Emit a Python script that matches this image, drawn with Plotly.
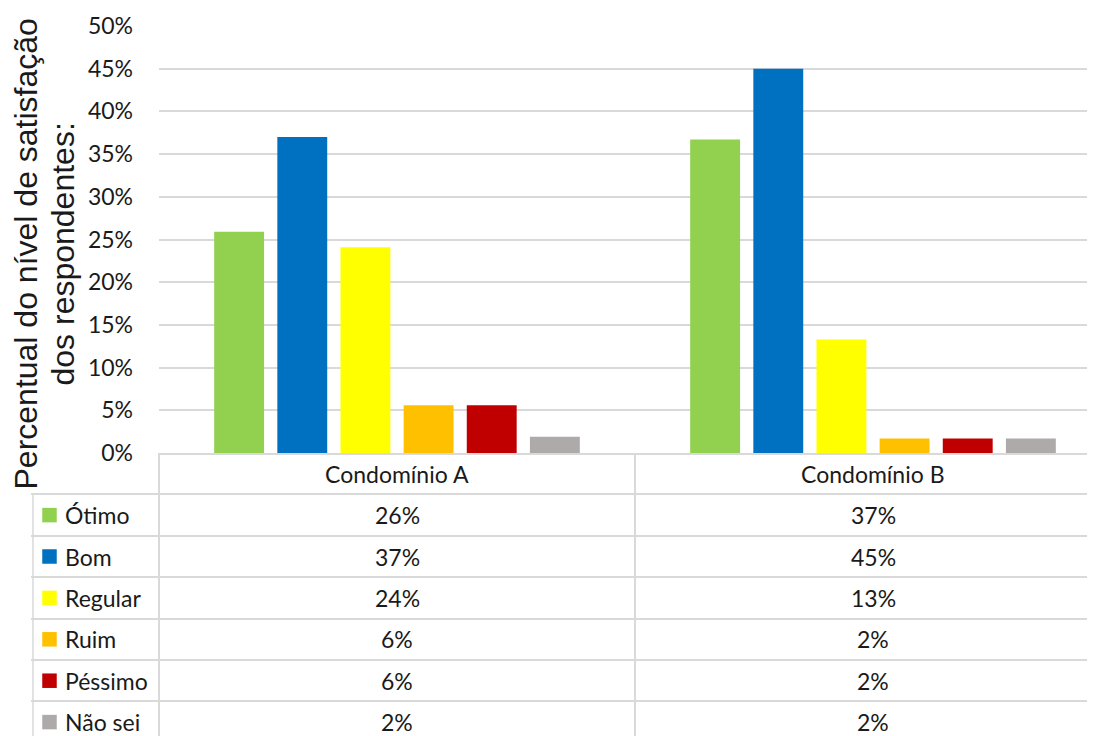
import plotly.graph_objects as go

# dados
condominios = ["Condomínio A", "Condomínio B"]
niveis = ["Ótimo", "Bom", "Regular", "Ruim", "Péssimo", "Não sei"]
cores = ["#92D050", "#0070C0", "#FFFF00", "#FFC000", "#C00000", "#AEAAAA"]
cond_a = [0.259, 0.370, 0.241, 0.056, 0.056, 0.019]
cond_b = [0.367, 0.450, 0.133, 0.017, 0.017, 0.017]

# a página põe a figura com 8 px de margem; trabalho em px da janela
OFF = 8
W, H = 1095 - OFF, 736 - OFF
GRID = "#d9d9d9"
TXT = "#1a1a1a"
col_px = 476.0          # largura de uma coluna (categoria) em px
leg_px = 126.0          # largura da coluna da legenda
row_px = 41.4
plot_left, plot_top, table_top = 159, 26, 453


def px_x(x):
    return (x - OFF) / W


def px_y(y):
    return 1 - (y - OFF) / H


x_max = -0.5 + (1095 - plot_left) / col_px
x2_min = -0.5 - (plot_left - 31) / col_px
y2_max = -0.5 + (736 - table_top) / row_px

fig = go.Figure()

valores = [cond_a, cond_b]
for i, nivel in enumerate(niveis):
    fig.add_trace(go.Bar(
        x=condominios,
        y=[v[i] for v in valores],
        name=nivel,
        marker=dict(color=cores[i], line=dict(width=0)),
        showlegend=False,
        xaxis="x", yaxis="y",
    ))

# quadradinhos da legenda na tabela
fig.add_trace(go.Scatter(
    x=[-0.5 - 109.5 / col_px] * len(niveis),
    y=list(range(1, len(niveis) + 1)),
    mode="markers",
    marker=dict(symbol="square", size=14.5, color=cores, line=dict(width=0)),
    showlegend=False, hoverinfo="skip",
    xaxis="x2", yaxis="y2",
))

ann = []
tfont = dict(family="Lato, Open Sans, sans-serif", size=23, color=TXT)
for j, c in enumerate(condominios):
    ann.append(dict(x=j, y=0, xref="x2", yref="y2", text=c, showarrow=False,
                    font=tfont, xanchor="center", yanchor="middle"))
    for i, v in enumerate(valores[j]):
        ann.append(dict(x=j, y=i + 1, xref="x2", yref="y2", text=f"{v:.0%}",
                        showarrow=False, font=tfont, xanchor="center", yanchor="middle"))
for i, nivel in enumerate(niveis):
    ann.append(dict(x=-0.5 - 96 / col_px, y=i + 1, xref="x2", yref="y2", text=nivel,
                    showarrow=False, font=tfont, xanchor="left", yanchor="middle"))

# título do eixo y em duas linhas
afont = dict(family="Liberation Sans, Arial, sans-serif", size=32, color=TXT)
ann.append(dict(x=px_x(25), y=px_y(254.5), xref="paper", yref="paper", showarrow=False,
                text="Percentual do nível de satisfação", textangle=-90, font=afont,
                xanchor="center", yanchor="middle"))
ann.append(dict(x=px_x(62), y=px_y(254.5), xref="paper", yref="paper", showarrow=False,
                text="dos respondentes:", textangle=-90, font=afont,
                xanchor="center", yanchor="middle"))

shapes = [dict(type="line", xref="x2", yref="y2",
               x0=-0.5 - leg_px / col_px, x1=-0.5 - leg_px / col_px,
               y0=0.5, y1=y2_max, line=dict(color=GRID, width=1.5))]

fig.update_layout(
    width=W, height=H,
    margin=dict(l=0, r=0, t=0, b=0, autoexpand=False),
    paper_bgcolor="white", plot_bgcolor="white",
    barmode="group", bargap=0.204, bargroupgap=0.21,
    xaxis=dict(domain=[px_x(plot_left), 1], range=[-0.5, x_max], anchor="y",
               showticklabels=False, ticks="", showgrid=False, zeroline=False,
               showline=True, linecolor=GRID, linewidth=1.5, automargin=False),
    yaxis=dict(domain=[px_y(table_top), px_y(plot_top)], range=[0, 0.5],
               dtick=0.05, tickformat=".0%", showgrid=True, gridcolor=GRID,
               gridwidth=1.5, zeroline=False, ticks="", ticklabelstandoff=25,
               tickfont=dict(family="Lato, Open Sans, sans-serif", size=23, color=TXT),
               anchor="x", automargin=False),
    xaxis2=dict(domain=[px_x(31), 1], range=[x2_min, x_max], anchor="y2",
                tickvals=[-0.5, 0.5], showticklabels=False, ticks="",
                showgrid=True, gridcolor=GRID, gridwidth=1.5, zeroline=False,
                automargin=False),
    yaxis2=dict(domain=[0, px_y(table_top)], range=[y2_max, -0.5], anchor="x2",
                tickvals=[k + 0.5 for k in range(len(niveis))], showticklabels=False,
                ticks="", showgrid=True, gridcolor=GRID, gridwidth=1.5, zeroline=False,
                automargin=False),
    annotations=ann,
    shapes=shapes,
)

fig.write_html("out.html")
